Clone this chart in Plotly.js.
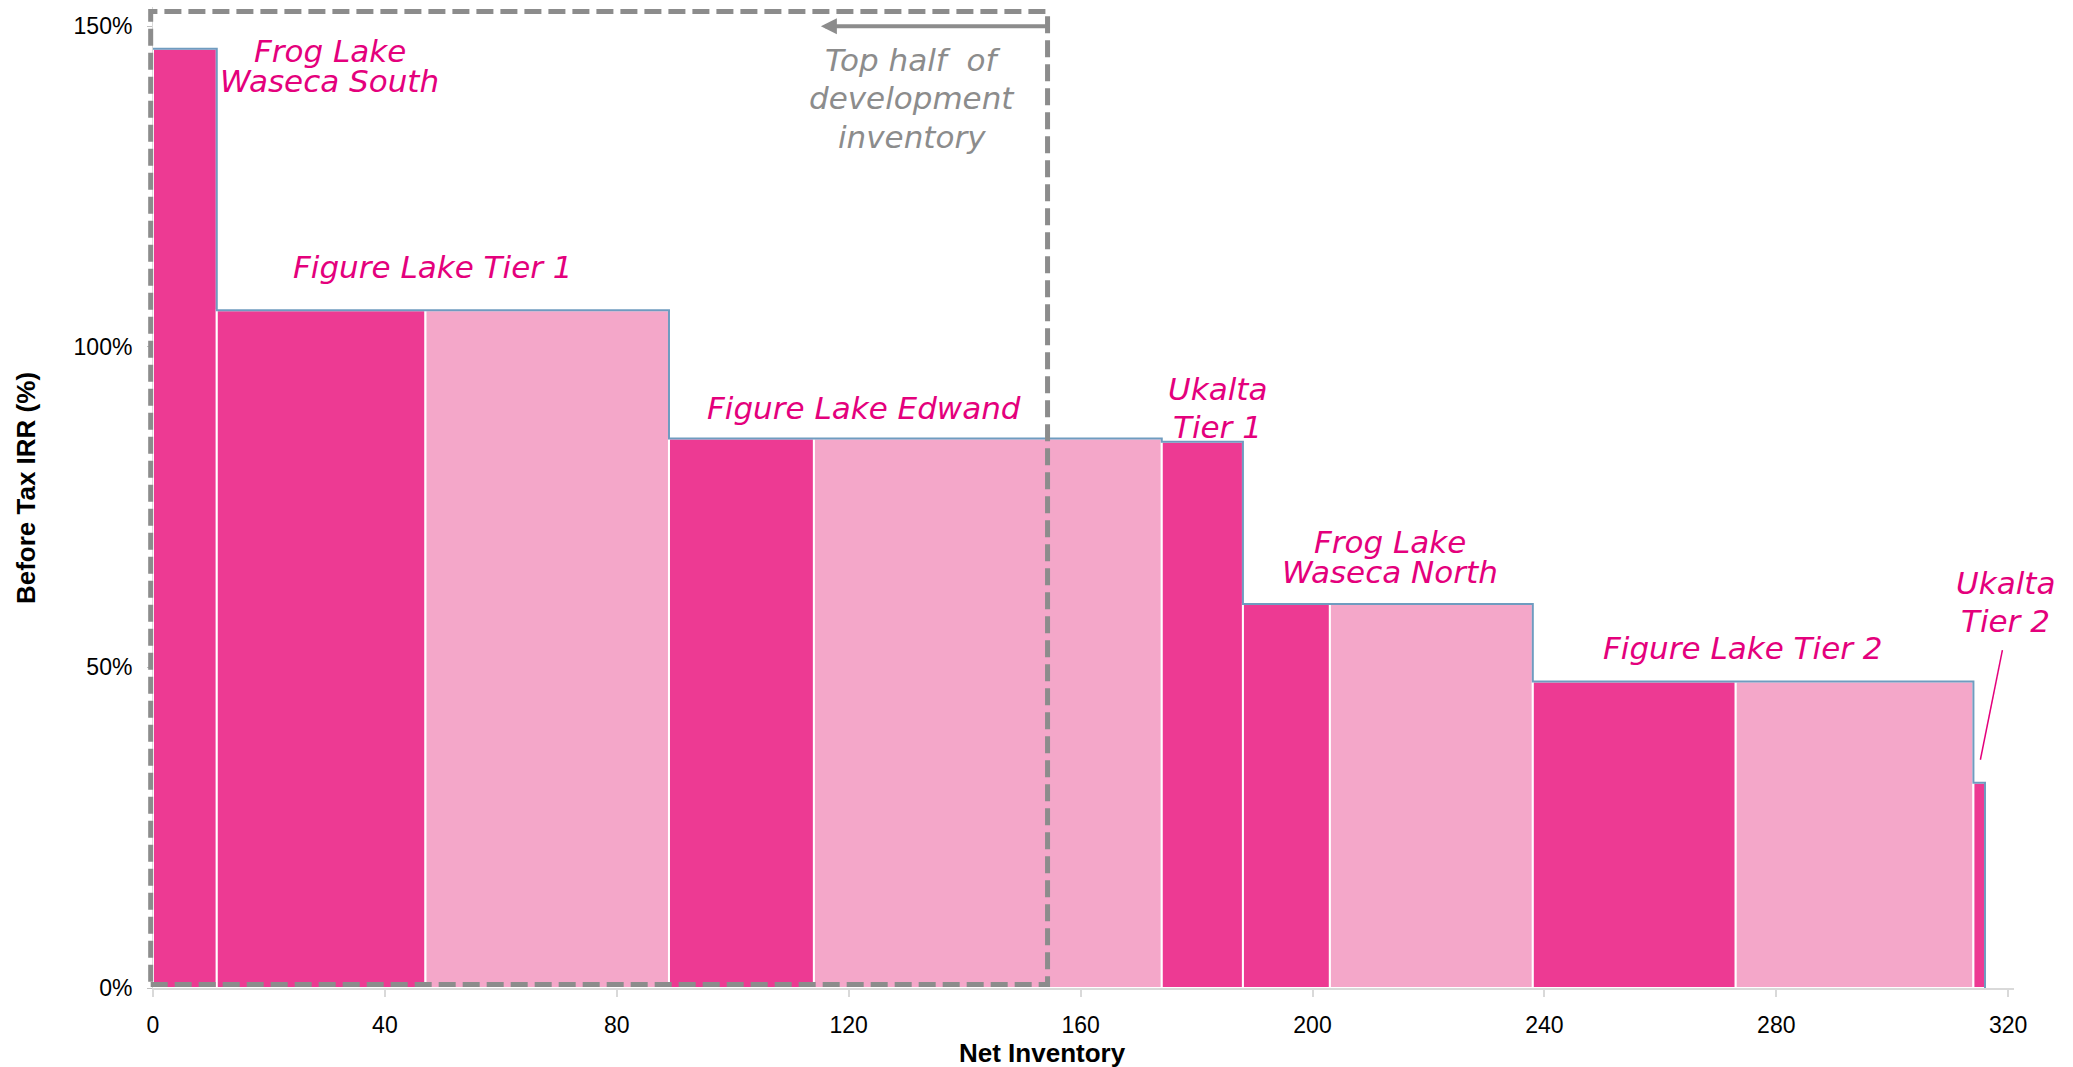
<!DOCTYPE html>
<html><head><meta charset="utf-8">
<script src="https://cdn.plot.ly/plotly-3.0.1.min.js"></script>
<style>html,body{margin:0;padding:0;background:#fff}#chart{width:2073px;height:1067px}</style>
</head><body><div id="chart"></div>
<script>
// ---- data ----
const blockNames = ['Frog Lake Waseca South','Figure Lake Tier 1','Figure Lake Tier 1','Figure Lake Edwand','Figure Lake Edwand','Ukalta Tier 1','Frog Lake Waseca North','Frog Lake Waseca North','Figure Lake Tier 2','Figure Lake Tier 2','Ukalta Tier 2'];
const blockInventory = [11, 36, 42, 25, 60, 14, 15, 35, 35, 41, 2];
const blockIRR = [146.5, 105.7, 105.7, 85.7, 85.7, 85.2, 59.9, 59.9, 47.8, 47.8, 32.0];
const blockShade = ['dark','dark','light','dark','light','dark','dark','light','dark','light','dark'];
const xTickVals = [0, 40, 80, 120, 160, 200, 240, 280, 320];
const yTickVals = [0, 50, 100, 150];
const yTickText = ['0%', '50%', '100%', '150%'];
const labelLines = [['Frog Lake','Waseca South'],['Figure Lake Tier 1'],['Figure Lake Edwand'],['Ukalta','Tier 1'],['Frog Lake','Waseca North'],['Figure Lake Tier 2'],['Ukalta','Tier 2']];
const topHalfLines = ['Top half\u00a0 of','development','inventory'];
const topHalfInventory = 154.3;

// ---- layout / style ----
const xRange = [0, 321];
const yRange = [0, 153];
const shadeColor = {dark: '#ED3A93', light: '#F4A7C9'};
const labelColor = '#E4007C';
const grey = '#8c8c8c';
const labelPos = [
  {x: 30.5, y: 146.1, gap: 30},
  {x: 48.35, y: 112.5, gap: 30},
  {x: 122.6, y: 90.4, gap: 30},
  {x: 183.6, y: 93.4, gap: 38.3},
  {x: 213.3, y: 69.5, gap: 30},
  {x: 274.3, y: 53.1, gap: 30},
  {x: 319.6, y: 63.2, gap: 38.3}
];
const topHalfPos = {x: 131.0, y: 144.8, gap: 38.5};
const arrowTip = {x: 115.2, y: 150};
const leader = {x0: 319.0, y0: 52.7, x1: 315.2, y1: 35.6};
const box = {x0: -0.4, y0: 0.55, y1: 152.3};

// ---- build ----
const edges = [0];
blockInventory.forEach(w => edges.push(edges[edges.length - 1] + w));
const centers = blockInventory.map((w, i) => edges[i] + w / 2);

const bars = {
  type: 'bar', x: centers, y: blockIRR, width: blockInventory,
  text: blockNames, hoverinfo: 'text+y', textposition: 'none',
  marker: {color: blockShade.map(s => shadeColor[s]), line: {color: '#ffffff', width: 2}},
  showlegend: false
};
const outline = {
  type: 'scatter', mode: 'lines',
  x: edges.slice(0, blockIRR.length).concat([edges[edges.length - 1]]),
  y: blockIRR.concat([0]),
  line: {shape: 'hv', color: '#6f9cc0', width: 2},
  hoverinfo: 'skip', showlegend: false
};

const annotations = [];
labelLines.forEach((lines, k) => {
  const p = labelPos[k];
  lines.forEach((t, i) => annotations.push({
    x: p.x, y: p.y, xref: 'x', yref: 'y', text: t, showarrow: false,
    xanchor: 'center', yanchor: 'middle', yshift: -i * p.gap,
    font: {family: 'DejaVu Sans, Verdana, sans-serif', size: 31, color: labelColor, style: 'italic'}
  }));
});
topHalfLines.forEach((t, i) => annotations.push({
  x: topHalfPos.x, y: topHalfPos.y, xref: 'x', yref: 'y', text: t, showarrow: false,
  xanchor: 'center', yanchor: 'middle', yshift: -i * topHalfPos.gap,
  font: {family: 'DejaVu Sans, Verdana, sans-serif', size: 31, color: grey, style: 'italic'}
}));
annotations.push({
  x: arrowTip.x, y: arrowTip.y, xref: 'x', yref: 'y',
  ax: topHalfInventory, ay: arrowTip.y, axref: 'x', ayref: 'y',
  text: '', showarrow: true, arrowhead: 2, arrowsize: 0.8, arrowwidth: 4, arrowcolor: grey, standoff: 0
});
annotations.push({
  x: 0.478, y: -0.066, xref: 'paper', yref: 'paper', text: '<b>Net Inventory</b>', showarrow: false,
  xanchor: 'center', yanchor: 'middle', font: {family: 'Liberation Sans, Arial, sans-serif', size: 26, color: '#000'}
});
annotations.push({
  x: -0.0682, y: 0.5097, xref: 'paper', yref: 'paper', text: '<b>Before Tax IRR (%)</b>', showarrow: false,
  textangle: -90, xanchor: 'center', yanchor: 'middle', font: {family: 'Liberation Sans, Arial, sans-serif', size: 26, color: '#000'}
});

const shapes = [
  {type: 'rect', xref: 'paper', yref: 'y',
   x0: box.x0 / (xRange[1] - xRange[0]), x1: topHalfInventory / (xRange[1] - xRange[0]),
   y0: box.y0, y1: box.y1,
   line: {color: grey, width: 5, dash: '17px,7px'}, fillcolor: 'rgba(0,0,0,0)'},
  {type: 'line', xref: 'x', yref: 'y', x0: leader.x0, y0: leader.y0, x1: leader.x1, y1: leader.y1,
   line: {color: labelColor, width: 1.5}}
];

const layout = {
  width: 2073, height: 1067,
  margin: {l: 153, r: 59, t: 7, b: 79, pad: 0},
  paper_bgcolor: '#fff', plot_bgcolor: '#fff',
  font: {family: 'Liberation Sans, Arial, sans-serif'},
  showlegend: false,
  xaxis: {
    range: xRange, tickmode: 'array', tickvals: xTickVals, ticktext: xTickVals.map(String),
    ticks: 'outside', ticklen: 7, tickwidth: 2,
    tickcolor: '#d9d9d9', showline: true, linecolor: '#d9d9d9', linewidth: 2, showgrid: false, zeroline: false,
    tickfont: {family: 'Liberation Sans, Arial, sans-serif', size: 23, color: '#000'},
    ticklabelstandoff: 8, automargin: false, fixedrange: true
  },
  yaxis: {
    range: yRange, tickmode: 'array', tickvals: yTickVals, ticktext: yTickText,
    ticks: 'outside', ticklen: 5, tickwidth: 1,
    tickcolor: '#bfbfbf', showline: true, linecolor: '#d9d9d9', linewidth: 1, showgrid: false, zeroline: false,
    tickfont: {family: 'Liberation Sans, Arial, sans-serif', size: 23, color: '#000'},
    ticklabelstandoff: 10, automargin: false, fixedrange: true
  },
  annotations: annotations,
  shapes: shapes
};
Plotly.newPlot('chart', [bars, outline], layout, {displayModeBar: false, responsive: false});
</script>
</body></html>
